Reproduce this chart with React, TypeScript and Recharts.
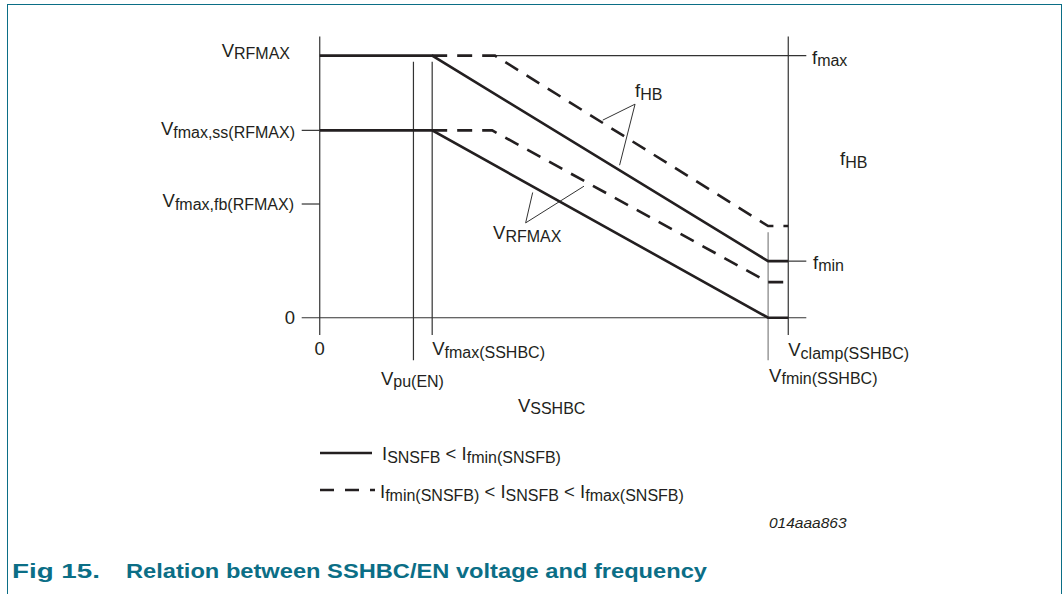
import React from 'react';
import { LineChart, Line, XAxis, YAxis, ReferenceLine, ReferenceDot, Legend } from 'recharts';

const FONT = '"Liberation Sans", Arial, Helvetica, sans-serif';
const INK = '#231f20';
const THIN = '#333333';
const GREY = '#808080';
const TEAL = '#0b6e86';

// ---- data (x: V_SSHBC, y: frequency level, normalised) ----
const solidUpper = [
  { x: 0, y: 1 },
  { x: 2.4, y: 1 },
  { x: 9.57, y: 0.216 },
  { x: 10, y: 0.216 },
];
const solidLower = [
  { x: 0, y: 0.715 },
  { x: 2.4, y: 0.715 },
  { x: 9.57, y: 0 },
  { x: 10, y: 0 },
];
const dashedUpper = [
  { x: 2.4, y: 1 },
  { x: 3.74, y: 1 },
  { x: 9.57, y: 0.35 },
  { x: 10, y: 0.35 },
];
const dashedLower = [
  { x: 2.4, y: 0.715 },
  { x: 3.68, y: 0.715 },
  { x: 9.57, y: 0.136 },
  { x: 10, y: 0.136 },
];

// ---- tick values and labels ----
const xTickValues = [0, 2.0, 2.4, 9.57, 10];
const xTickLabels: [string, string][] = [
  ['0', ''],
  ['V', 'pu(EN)'],
  ['V', 'fmax(SSHBC)'],
  ['V', 'fmin(SSHBC)'],
  ['V', 'clamp(SSHBC)'],
];
const leftTickValues = [1, 0.715, 0.434, 0];
const leftTickLabels: [string, string][] = [
  ['V', 'RFMAX'],
  ['V', 'fmax,ss(RFMAX)'],
  ['V', 'fmax,fb(RFMAX)'],
  ['0', ''],
];
const rightTickValues = [1, 0.594, 0.216];
const rightTickLabels: [string, string][] = [
  ['f', 'max'],
  ['f', 'HB'],
  ['f', 'min'],
];

// ---- guide lines ----
const guideV = [
  { x: 0, y1: -0.066, y2: 1.073, c: THIN },
  { x: 2.0, y1: -0.162, y2: 0.977, c: THIN },
  { x: 2.4, y1: -0.066, y2: 0.977, c: THIN },
  { x: 9.57, y1: -0.162, y2: 0.326, c: GREY },
  { x: 10, y1: -0.066, y2: 1.073, c: THIN },
];
const guideH = [
  { y: 0, x1: -0.385, x2: 10.385 },
  { y: 0.715, x1: -0.385, x2: 0 },
  { y: 0.434, x1: -0.385, x2: 0 },
  { y: 1, x1: 3.74, x2: 10.385 },
  { y: 0.216, x1: 10, x2: 10.385 },
];
const pointerLines = [
  [{ x: 6.73, y: 0.815 }, { x: 6.04, y: 0.754 }],
  [{ x: 6.73, y: 0.815 }, { x: 6.4, y: 0.582 }],
  [{ x: 4.395, y: 0.362 }, { x: 4.545, y: 0.478 }],
  [{ x: 4.395, y: 0.362 }, { x: 5.64, y: 0.502 }],
];
const annotations = [
  { x: 6.73, y: 0.842, main: 'f', sub: 'HB' },
  { x: 3.7, y: 0.3, main: 'V', sub: 'RFMAX' },
  { x: 4.23, y: -0.359, main: 'V', sub: 'SSHBC' },
];

type Seg = { t: string; sub?: boolean };
const legendItems: { dash: string; segs: Seg[] }[] = [
  { dash: '', segs: [{ t: 'I' }, { t: 'SNSFB', sub: true }, { t: ' < I' }, { t: 'fmin(SNSFB)', sub: true }] },
  {
    dash: '14 11',
    segs: [
      { t: 'I' },
      { t: 'fmin(SNSFB)', sub: true },
      { t: ' < I' },
      { t: 'SNSFB', sub: true },
      { t: ' < I' },
      { t: 'fmax(SNSFB)', sub: true },
    ],
  },
];

// ---- placement styles for labels ----
const xTickPlacement = [
  { anchor: 'middle', dx: 0, dy: -6 },
  { anchor: 'middle', dx: -1, dy: 23.5 },
  { anchor: 'start', dx: 0, dy: -6 },
  { anchor: 'start', dx: 1, dy: 20.5 },
  { anchor: 'start', dx: 0, dy: -5 },
];
const leftTickPlacement = [
  { dx: -11, dy: 1 },
  { dx: -6, dy: 5 },
  { dx: -7, dy: 3 },
  { dx: -6, dy: 6.5 },
];
const rightTickPlacement = [
  { dx: 5, dy: 8 },
  { dx: 33, dy: 3 },
  { dx: 6, dy: 7.5 },
];

const toSegs = (main: string, sub: string): Seg[] => (sub ? [{ t: main }, { t: sub, sub: true }] : [{ t: main }]);

function Rich({ x, y, segs, anchor = 'start', size = 18.5, subSize = 16, subDy = 2.5 }: any) {
  let cur = 0;
  return (
    <text x={x} y={y} textAnchor={anchor} fontFamily={FONT} fontSize={size} fill={INK} style={{ whiteSpace: 'pre' }}>
      {segs.map((s: Seg, i: number) => {
        const target = s.sub ? subDy : 0;
        const dy = target - cur;
        cur = target;
        return (
          <tspan key={i} dy={dy} fontSize={s.sub ? subSize : size}>
            {s.t}
          </tspan>
        );
      })}
    </text>
  );
}

const XTick = (props: any) => {
  const i = xTickValues.indexOf(props.payload.value);
  if (i < 0) return <g />;
  const p = xTickPlacement[i];
  return <Rich x={props.x + p.dx} y={props.y + p.dy} segs={toSegs(...xTickLabels[i])} anchor={p.anchor} />;
};
const LeftTick = (props: any) => {
  const i = leftTickValues.indexOf(props.payload.value);
  if (i < 0) return <g />;
  const p = leftTickPlacement[i];
  return <Rich x={props.x + p.dx} y={props.y + p.dy} segs={toSegs(...leftTickLabels[i])} anchor="end" />;
};
const RightTick = (props: any) => {
  const i = rightTickValues.indexOf(props.payload.value);
  if (i < 0) return <g />;
  const p = rightTickPlacement[i];
  return <Rich x={props.x + p.dx} y={props.y + p.dy} segs={toSegs(...rightTickLabels[i])} anchor="start" />;
};

const LegendContent = () => (
  <svg width={420} height={80}>
    {legendItems.map((it, i) => (
      <g key={i}>
        <line
          x1={20}
          x2={i === 0 ? 72 : 75}
          y1={23 + 37 * i}
          y2={23 + 37 * i}
          stroke={INK}
          strokeWidth={2.6}
          strokeDasharray={it.dash || undefined}
        />
        <Rich x={i === 0 ? 82 : 80} y={30 + 38 * i} segs={it.segs} anchor="start" />
      </g>
    ))}
  </svg>
);

export default function App() {
  return (
    <div style={{ position: 'absolute', left: 0, top: 0, width: 1063, height: 594, overflow: 'hidden', background: '#fff' }}>
      <div
        style={{
          position: 'absolute',
          left: 7,
          top: 4,
          width: 1055,
          height: 700,
          border: `1px solid ${TEAL}`,
          boxSizing: 'border-box',
        }}
      />
      <div style={{ position: 'absolute', left: 0, top: 0 }}>
        <LineChart width={1063} height={594} margin={{ top: 36, right: 255, bottom: 232, left: 300 }}>
          <XAxis
            type="number"
            dataKey="x"
            domain={[-0.4, 10.4]}
            allowDataOverflow
            ticks={xTickValues}
            interval={0}
            tick={(p: any) => <XTick {...p} />}
            tickLine={false}
            axisLine={false}
            tickSize={0}
            tickMargin={0}
            height={1}
          />
          <YAxis
            type="number"
            domain={[-0.165, 1.075]}
            allowDataOverflow
            ticks={leftTickValues}
            interval={0}
            tick={(p: any) => <LeftTick {...p} />}
            tickLine={false}
            axisLine={false}
            tickSize={0}
            tickMargin={0}
            width={1}
          />
          <YAxis
            yAxisId="r"
            orientation="right"
            type="number"
            domain={[-0.165, 1.075]}
            allowDataOverflow
            ticks={rightTickValues}
            interval={0}
            tick={(p: any) => <RightTick {...p} />}
            tickLine={false}
            axisLine={false}
            tickSize={0}
            tickMargin={0}
            width={1}
          />
          {guideV.map((g, i) => (
            <ReferenceLine
              key={'v' + i}
              segment={[
                { x: g.x, y: g.y1 },
                { x: g.x, y: g.y2 },
              ]}
              stroke={g.c}
              strokeWidth={1.2}
              ifOverflow="visible"
            />
          ))}
          {guideH.map((g, i) => (
            <ReferenceLine
              key={'h' + i}
              segment={[
                { x: g.x1, y: g.y },
                { x: g.x2, y: g.y },
              ]}
              stroke={THIN}
              strokeWidth={1.2}
              ifOverflow="visible"
            />
          ))}
          {pointerLines.map((s, i) => (
            <ReferenceLine key={'p' + i} segment={s} stroke={THIN} strokeWidth={1} ifOverflow="visible" />
          ))}
          <Line data={solidUpper} dataKey="y" type="linear" stroke={INK} strokeWidth={2.6} dot={false} activeDot={false} isAnimationActive={false} />
          <Line data={solidLower} dataKey="y" type="linear" stroke={INK} strokeWidth={2.6} dot={false} activeDot={false} isAnimationActive={false} />
          <Line data={dashedUpper} dataKey="y" type="linear" stroke={INK} strokeWidth={2.6} strokeDasharray="15 10" dot={false} activeDot={false} isAnimationActive={false} />
          <Line data={dashedLower} dataKey="y" type="linear" stroke={INK} strokeWidth={2.6} strokeDasharray="15 10" dot={false} activeDot={false} isAnimationActive={false} />
          {annotations.map((a, i) => (
            <ReferenceDot
              key={'a' + i}
              x={a.x}
              y={a.y}
              r={1}
              ifOverflow="visible"
              shape={(p: any) => <Rich x={p.cx} y={p.cy} segs={toSegs(a.main, a.sub)} anchor="start" />}
            />
          ))}
          <Legend
            layout="horizontal"
            verticalAlign="middle"
            align="center"
            wrapperStyle={{ left: 300, top: 430, width: 420, height: 80 }}
            content={<LegendContent />}
          />
        </LineChart>
      </div>
      <svg style={{ position: 'absolute', left: 0, top: 0, pointerEvents: 'none' }} width={1063} height={594}>
        <text x={769} y={528} fontFamily={FONT} fontStyle="italic" fontSize={15.5} fill={INK}>
          014aaa863
        </text>
        <text x={12} y={578} fontFamily={FONT} fontWeight="bold" fontSize={21} fill={TEAL} textLength={88} lengthAdjust="spacingAndGlyphs">
          Fig 15.
        </text>
        <text x={126} y={578} fontFamily={FONT} fontWeight="bold" fontSize={21} fill={TEAL} textLength={581} lengthAdjust="spacingAndGlyphs">
          Relation between SSHBC/EN voltage and frequency
        </text>
      </svg>
    </div>
  );
}
